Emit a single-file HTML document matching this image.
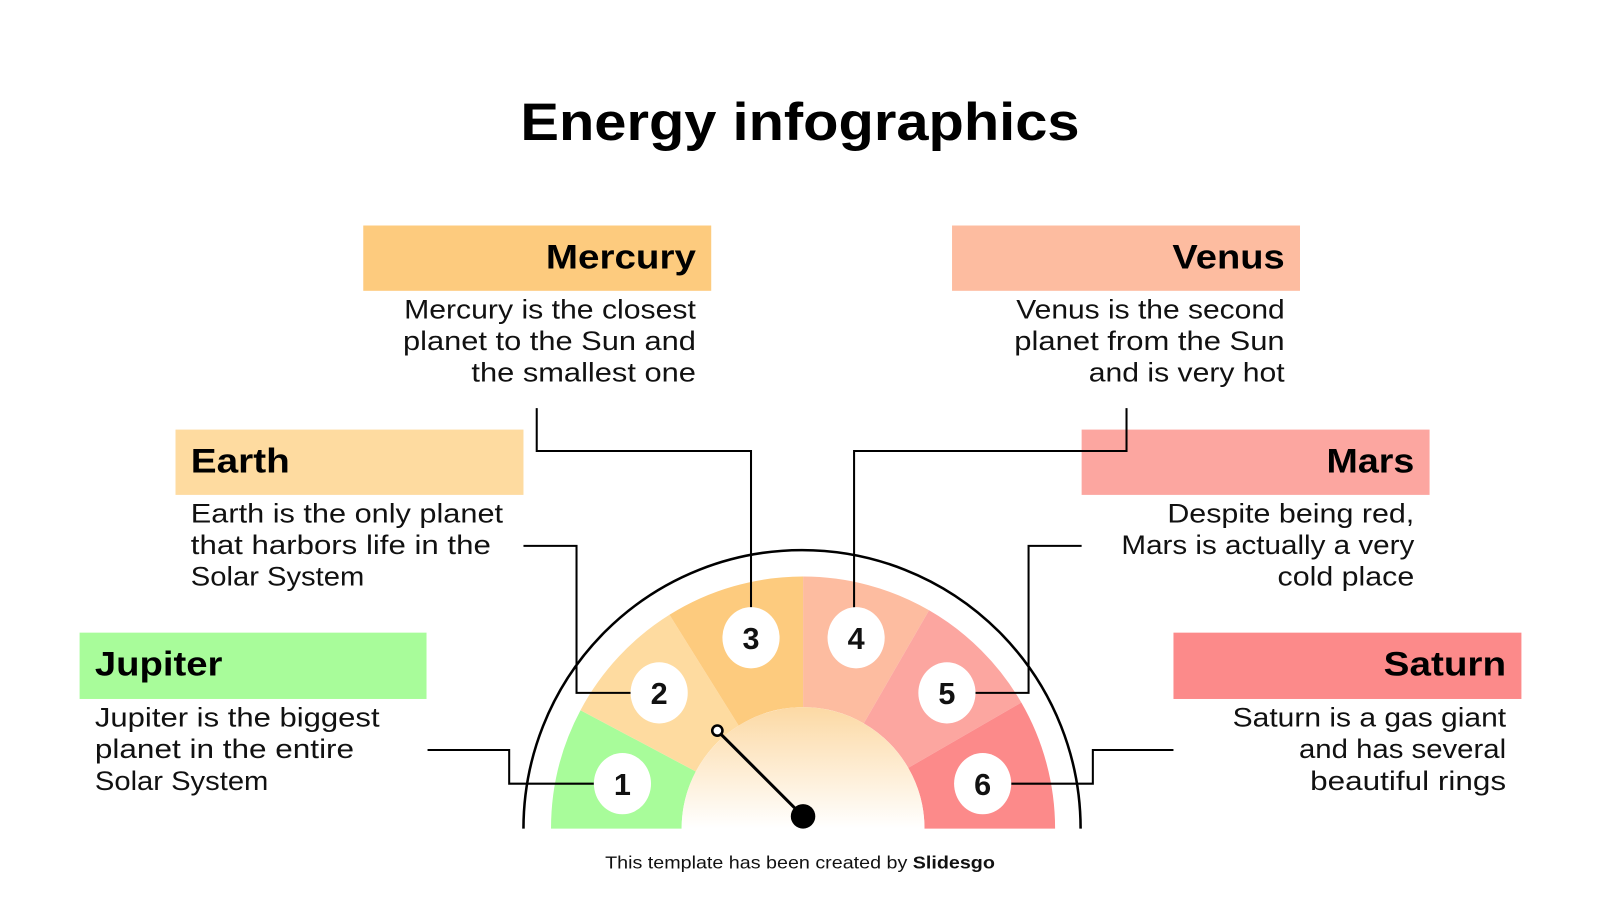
<!DOCTYPE html>
<html><head><meta charset="utf-8"><style>
html,body{margin:0;padding:0;background:#fff;}
svg{display:block;font-family:"Liberation Sans",sans-serif;}
</style></head><body>
<svg width="1600" height="900" viewBox="0 0 1600 900" xmlns="http://www.w3.org/2000/svg">
<defs>
<linearGradient id="g" x1="0" y1="0" x2="0" y2="1">
<stop offset="0" stop-color="#FCD9A4"/><stop offset="1" stop-color="#FFFFFF"/>
</linearGradient>
</defs>
<g transform="scale(1.0204)">
<text x="784" y="137" font-size="52" font-weight="bold" text-anchor="middle" fill="#000" textLength="548" lengthAdjust="spacingAndGlyphs">Energy infographics</text>

<rect x="356" y="221" width="341" height="64" fill="#FDCB7E"/>
<text x="682" y="263" font-size="34" font-weight="bold" text-anchor="end" textLength="147" lengthAdjust="spacingAndGlyphs">Mercury</text>
<rect x="933" y="221" width="341" height="64" fill="#FDBCA0"/>
<text x="1259" y="263" font-size="34" font-weight="bold" text-anchor="end" textLength="110" lengthAdjust="spacingAndGlyphs">Venus</text>
<rect x="172" y="421" width="341" height="64" fill="#FEDBA0"/>
<text x="187" y="463" font-size="34" font-weight="bold" textLength="97" lengthAdjust="spacingAndGlyphs">Earth</text>
<rect x="1060" y="421" width="341" height="64" fill="#FCA6A0"/>
<text x="1386" y="463" font-size="34" font-weight="bold" text-anchor="end" textLength="86" lengthAdjust="spacingAndGlyphs">Mars</text>
<rect x="78" y="620" width="340" height="65" fill="#A8FC9A"/>
<text x="93" y="662" font-size="34" font-weight="bold" textLength="125" lengthAdjust="spacingAndGlyphs">Jupiter</text>
<rect x="1150" y="620" width="341" height="65" fill="#FC8A8A"/>
<text x="1476" y="662" font-size="34" font-weight="bold" text-anchor="end" textLength="120" lengthAdjust="spacingAndGlyphs">Saturn</text>

<g font-size="26" fill="#111">
<text x="682" y="312" text-anchor="end" textLength="286" lengthAdjust="spacingAndGlyphs">Mercury is the closest</text>
<text x="682" y="343" text-anchor="end" textLength="287" lengthAdjust="spacingAndGlyphs">planet to the Sun and</text>
<text x="682" y="374" text-anchor="end" textLength="220" lengthAdjust="spacingAndGlyphs">the smallest one</text>
<text x="1259" y="312" text-anchor="end" textLength="263" lengthAdjust="spacingAndGlyphs">Venus is the second</text>
<text x="1259" y="343" text-anchor="end" textLength="265" lengthAdjust="spacingAndGlyphs">planet from the Sun</text>
<text x="1259" y="374" text-anchor="end" textLength="192" lengthAdjust="spacingAndGlyphs">and is very hot</text>
<text x="187" y="512" textLength="306" lengthAdjust="spacingAndGlyphs">Earth is the only planet</text>
<text x="187" y="543" textLength="294" lengthAdjust="spacingAndGlyphs">that harbors life in the</text>
<text x="187" y="574" textLength="170" lengthAdjust="spacingAndGlyphs">Solar System</text>
<text x="1386" y="512" text-anchor="end" textLength="242" lengthAdjust="spacingAndGlyphs">Despite being red,</text>
<text x="1386" y="543" text-anchor="end" textLength="287" lengthAdjust="spacingAndGlyphs">Mars is actually a very</text>
<text x="1386" y="574" text-anchor="end" textLength="134" lengthAdjust="spacingAndGlyphs">cold place</text>
<text x="93" y="712" textLength="279" lengthAdjust="spacingAndGlyphs">Jupiter is the biggest</text>
<text x="93" y="743" textLength="254" lengthAdjust="spacingAndGlyphs">planet in the entire</text>
<text x="93" y="774" textLength="170" lengthAdjust="spacingAndGlyphs">Solar System</text>
<text x="1476" y="712" text-anchor="end" textLength="268" lengthAdjust="spacingAndGlyphs">Saturn is a gas giant</text>
<text x="1476" y="743" text-anchor="end" textLength="203" lengthAdjust="spacingAndGlyphs">and has several</text>
<text x="1476" y="774" text-anchor="end" textLength="192" lengthAdjust="spacingAndGlyphs">beautiful rings</text>
</g>

<path d="M513 812 A273 273 0 0 1 1059 812" fill="none" stroke="#000" stroke-width="2.5"/>
<g transform="translate(787,812)">
<path d="M-247 0 A247 247 0 0 1 -218.1 -116 L-105.1 -55.9 A119 119 0 0 0 -119 0 Z" fill="#A8FC9A"/>
<path d="M-218.1 -116 A247 247 0 0 1 -130.9 -209.5 L-63.1 -100.9 A119 119 0 0 0 -105.1 -55.9 Z" fill="#FEDBA0"/>
<path d="M-130.9 -209.5 A247 247 0 0 1 0 -247 L0 -119 A119 119 0 0 0 -63.1 -100.9 Z" fill="#FDCB7E"/>
<path d="M0 -247 A247 247 0 0 1 123.5 -213.9 L59.5 -103.1 A119 119 0 0 0 0 -119 Z" fill="#FDBCA0"/>
<path d="M123.5 -213.9 A247 247 0 0 1 213.9 -123.5 L103.1 -59.5 A119 119 0 0 0 59.5 -103.1 Z" fill="#FCA6A0"/>
<path d="M213.9 -123.5 A247 247 0 0 1 247 0 L119 0 A119 119 0 0 0 103.1 -59.5 Z" fill="#FC8A8A"/>
<path d="M-119 0 A119 119 0 0 1 119 0 Z" fill="url(#g)"/>
</g>

<g fill="none" stroke="#000" stroke-width="2">
<polyline points="419,735 499,735 499,768 582,768"/>
<polyline points="513,535 565,535 565,679 618,679"/>
<polyline points="526,400 526,442 736,442 736,597"/>
<polyline points="1104,400 1104,442 837,442 837,597"/>
<polyline points="1060,535 1008,535 1008,679 956,679"/>
<polyline points="1150,735 1071,735 1071,768 991,768"/>
</g>

<g fill="#fff">
<ellipse cx="610" cy="768" rx="28" ry="30"/>
<ellipse cx="646" cy="679" rx="28" ry="30"/>
<ellipse cx="736" cy="625" rx="28" ry="30"/>
<ellipse cx="839" cy="625" rx="28" ry="30"/>
<ellipse cx="928" cy="679" rx="28" ry="30"/>
<ellipse cx="963" cy="768" rx="28" ry="30"/>
</g>
<g font-size="30" font-weight="bold" text-anchor="middle" fill="#111">
<text x="610" y="779">1</text>
<text x="646" y="690">2</text>
<text x="736" y="636">3</text>
<text x="839" y="636">4</text>
<text x="928" y="690">5</text>
<text x="963" y="779">6</text>
</g>

<line x1="706" y1="719" x2="787" y2="800" stroke="#000" stroke-width="3"/>
<circle cx="703" cy="716" r="5" fill="#fff" stroke="#000" stroke-width="2.5"/>
<circle cx="787" cy="800" r="12" fill="#000"/>

<text x="784" y="851" font-size="17" text-anchor="middle" fill="#111" textLength="382" lengthAdjust="spacingAndGlyphs">This template has been created by <tspan font-weight="bold">Slidesgo</tspan></text>
</g>
</svg>
</body></html>
